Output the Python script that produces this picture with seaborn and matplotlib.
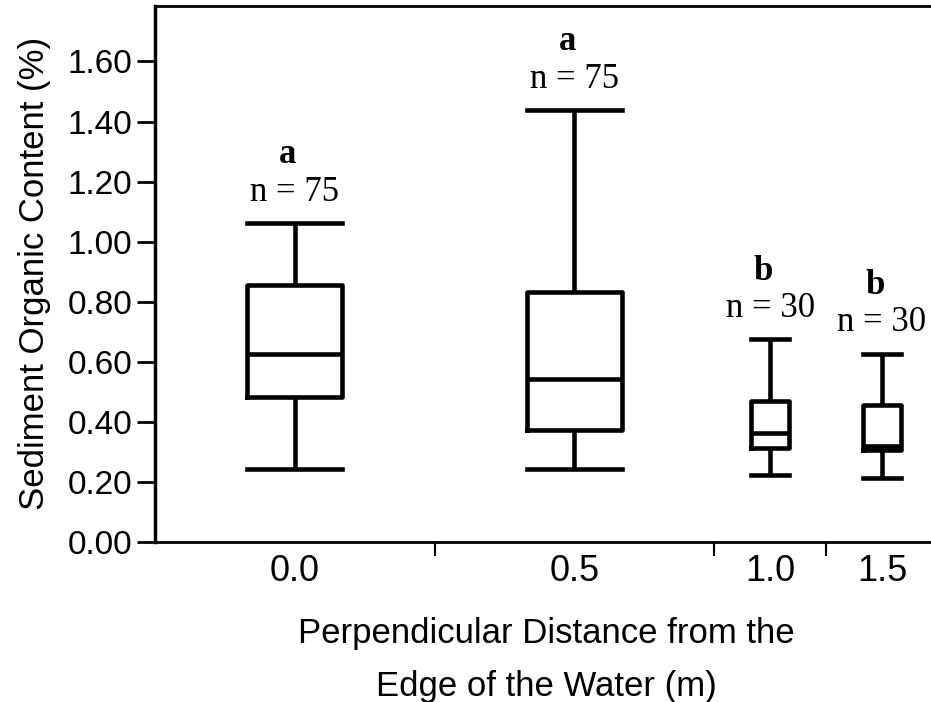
import numpy as np
import pandas as pd
import matplotlib
matplotlib.use("Agg")
import matplotlib.pyplot as plt
import seaborn as sns

# ---- data ----
distance_labels = ["0.0", "0.5", "1.0", "1.5"]
sample_sizes = [75, 75, 30, 30]
group_letters = ["a", "a", "b", "b"]
whisker_low = [0.243, 0.242, 0.222, 0.214]
quartile_1 = [0.483, 0.372, 0.311, 0.305]
medians = [0.627, 0.541, 0.361, 0.320]
quartile_3 = [0.854, 0.832, 0.469, 0.455]
whisker_high = [1.063, 1.439, 0.675, 0.627]
y_ticks = [0.00, 0.20, 0.40, 0.60, 0.80, 1.00, 1.20, 1.40, 1.60]

plt.rcParams["font.family"] = ["Liberation Sans", "DejaVu Sans"]

# variable-width layout: each category spans a width proportional to n
edges = np.concatenate([[0], np.cumsum(sample_sizes)])
centers = (edges[:-1] + edges[1:]) / 2

rows = []
for lab, c, lo, q1, md, q3, hi in zip(distance_labels, centers, whisker_low,
                                       quartile_1, medians, quartile_3, whisker_high):
    for v in (lo, q1, md, q3, hi):
        rows.append({"distance": lab, "pos": c, "value": v})
df = pd.DataFrame(rows)

fig = plt.figure(figsize=(9.31, 7.02), dpi=100)
fig.patch.set_facecolor("white")
ax = fig.add_axes([0.1665, 0.2283, 0.841, 0.7632])
ax.set_facecolor("white")

for lab, n in zip(distance_labels, sample_sizes):
    sub = df[df["distance"] == lab]
    w = n * 0.34
    sns.boxplot(data=sub, x="pos", y="value", native_scale=True, orient="x",
                width=w, whis=(0, 100), fill=False, color="black",
                linecolor="black", linewidth=3.3, capwidths=w, ax=ax)

for c, n, hi, let in zip(centers, sample_sizes, whisker_high, group_letters):
    ax.annotate(f"n = {n}", xy=(c, hi), xytext=(0, 22), textcoords="offset points",
                ha="center", va="center", fontfamily="Liberation Serif", fontsize=25,
                color="black")
    ax.annotate(let, xy=(c, hi), xytext=(-5, 49), textcoords="offset points",
                ha="center", va="center", fontfamily="Liberation Serif", fontsize=25,
                fontweight="bold", color="black")

ax.set_xlim(edges[0], edges[-1])
ax.set_ylim(0, 1.785)
ax.set_yticks(y_ticks)
ax.set_yticklabels([f"{t:.2f}" for t in y_ticks])
ax.set_xticks(centers)
ax.set_xticklabels(distance_labels)
ax.set_xticks(edges[1:-1], minor=True)

ax.tick_params(axis="y", which="major", direction="out", length=13, width=2,
               pad=3.5, labelsize=24, left=True, colors="black")
ax.tick_params(axis="x", which="major", length=0, pad=9, labelsize=26,
               bottom=True, colors="black")
ax.tick_params(axis="x", which="minor", direction="out", length=10, width=1.5,
               bottom=True, colors="black")

for side in ["left", "bottom", "top"]:
    ax.spines[side].set_color("black")
ax.spines["left"].set_linewidth(2.5)
ax.spines["bottom"].set_linewidth(2)
ax.spines["top"].set_linewidth(2)
ax.spines["right"].set_visible(False)

ax.set_xlabel("Perpendicular Distance from the\nEdge of the Water (m)",
              fontsize=25, linespacing=1.75, labelpad=20, color="black")
ax.set_ylabel("Sediment Organic Content (%)", fontsize=25, labelpad=12, color="black")

fig.savefig("out.png", dpi=100)
